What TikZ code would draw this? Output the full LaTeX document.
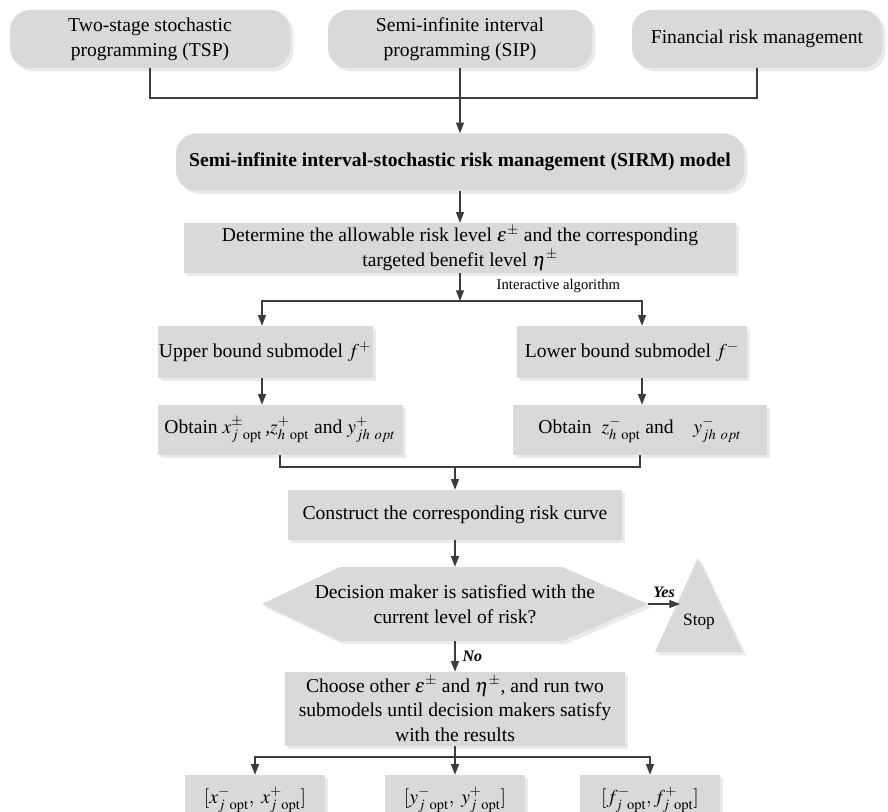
\documentclass[tikz,border=0pt]{standalone}
\usepackage{mathptmx}
\usepackage[no-math]{fontspec}
\setmainfont{Liberation Serif}
\usetikzlibrary{shadows,arrows.meta}
\definecolor{relleno}{HTML}{D9D9D9}
\definecolor{sombra}{HTML}{EAEAEA}
\definecolor{gristrazo}{HTML}{3C3C3C}
\tikzset{
  sombreado/.style={general shadow={fill=sombra, shadow xshift=2.5pt, shadow yshift=-2.5pt}},
  caja/.style 2 args={fill=relleno, sombreado, align=center, inner sep=0pt,
     minimum width=#1*0.75pt, minimum height=#2*0.75pt},
  redonda/.style 2 args={caja={#1}{#2}, rounded corners=15pt},
  trazo/.style={draw=gristrazo, line width=0.8pt},
  flecha/.style={trazo, -{Triangle[length=8pt,width=6pt]}}
}

\begin{document}
\begin{tikzpicture}[x=0.75pt,y=-0.75pt,
    every node/.style={font=\fontsize{14.7pt}{18.5pt}\selectfont}]
    \useasboundingbox (0,0) rectangle (888,812);
    \clip (0,0) rectangle (888,812);
    \node[redonda={280}{58}, font=\fontsize{14.7pt}{19pt}\selectfont] (tsp) at (150,39) {Two-stage stochastic\\programming (TSP)};
    \node[redonda={264}{58}, font=\fontsize{14.7pt}{19pt}\selectfont] (sip) at (460,39) {Semi-infinite interval\\programming (SIP)};
    \node[redonda={250}{58}] (frm) at (757,39) {Financial risk management};
    \node[redonda={568}{57}] (sirm) at (460,162) {\textbf{Semi-infinite interval-stochastic risk management (SIRM) model}};
    \node[caja={552}{50}] (det) at (460,248) {Determine the allowable risk level $\varepsilon^{\pm}$ and the corresponding\\targeted benefit level $\eta^{\pm}$};
    \node[caja={215}{52}] (upper) at (265,352) {Upper bound submodel $f^{+}$};
    \node[caja={230}{52}] (lower) at (632,352) {Lower bound submodel $f^{-}$};
    \node[caja={245}{50}] (obtl) at (280,430) {Obtain $x^{\pm}_{j\ \mathrm{opt}}$\,,$z^{+}_{h\ \mathrm{opt}}$ and $y^{+}_{jh\ opt}$};
    \node[caja={254}{50}] (obtr) at (640,430) {Obtain\ \ $z^{-}_{h\ \mathrm{opt}}$ and\quad $y^{-}_{jh\ opt}$};
    \node[caja={334}{50}] (curve) at (455,515) {Construct the corresponding risk curve};
    \path[fill=relleno, sombreado] (262,604) -- (340,567) -- (562,567) -- (648,604) -- (562,641) -- (340,641) -- cycle;
    \node[align=center, inner sep=0pt, minimum width=386*0.75pt, minimum height=74*0.75pt]
          (decision) at (455,604) {Decision maker is satisfied with the\\current level of risk?};
    \path[fill=relleno, sombreado] (698,558) -- (743,652) -- (655,652) -- cycle;
    \node[font=\fontsize{13pt}{15pt}\selectfont] (stop) at (699,622) {Stop};
    \coordinate (entrada) at (680,604);
    \node[caja={340}{74}] (choose) at (455,709) {Choose other $\varepsilon^{\pm}$ and $\eta^{\pm}$, and run two\\submodels until decision makers satisfy\\with the results};
    \node[caja={140}{50}] (xres) at (255,800) {$[x^{-}_{j\ \mathrm{opt}},\ x^{+}_{j\ \mathrm{opt}}]$};
    \node[caja={140}{50}] (yres) at (455,800) {$[y^{-}_{j\ \mathrm{opt}},\ y^{+}_{j\ \mathrm{opt}}]$};
    \node[caja={140}{50}] (fres) at (650,800) {$[f^{-}_{j\ \mathrm{opt}}, f^{+}_{j\ \mathrm{opt}}]$};
    \coordinate (cruce) at (460,98);
    \coordinate (rama) at (460,301);
    \coordinate (union) at (455,467);
    \coordinate (reparto) at (455,757);
    \draw[trazo] (tsp.south) |- (cruce) -| (frm.south);
    \draw[flecha] (sip.south) -- (sirm.north);
    \draw[flecha] (sirm.south) -- (det.north);
    \draw[flecha] (det.south) -- (rama);
    \node[anchor=south west, font=\fontsize{11pt}{13pt}\selectfont] (inter) at (492,297) {Interactive algorithm};
    \draw[flecha] (rama) -| (upper.north -| 262,0);
    \draw[flecha] (rama) -| (lower.north -| 642,0);
    \draw[flecha] (upper.south -| 262,0) -- (obtl.north -| 262,0);
    \draw[flecha] (lower.south -| 642,0) -- (obtr.north -| 642,0);
    \draw[trazo] (obtl.south) |- (union) -| (obtr.south);
    \draw[flecha] (union) -- (curve.north);
    \draw[flecha] (curve.south) -- (decision.north);
    \draw[flecha] (decision.east) -- (entrada) node[midway, above=1pt, font=\fontsize{12pt}{14pt}\bfseries\itshape] (yes) {Yes};
    \draw[flecha] (decision.south) -- (choose.north) node[midway, right=2pt, font=\fontsize{12pt}{14pt}\bfseries\itshape] (no) {No};
    \draw[trazo] (choose.south) -- (reparto);
    \foreach \res in {xres,yres,fres}
        \draw[flecha] (reparto) -| (\res.north);
\end{tikzpicture}
\end{document}
